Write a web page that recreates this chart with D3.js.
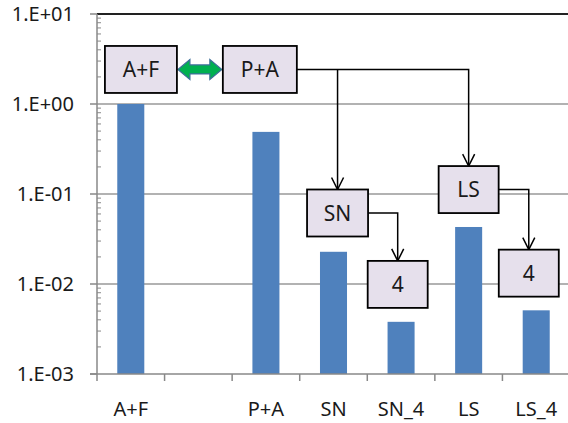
<!DOCTYPE html>
<html>
<head>
<meta charset="utf-8">
<script src="https://cdn.jsdelivr.net/npm/d3@7"></script>
<style>
  body { margin: 0; background: #fff; }
  svg { display: block; font-family: "Noto Sans", "Open Sans", sans-serif; }
</style>
</head>
<body>
<svg id="chart" width="568" height="423"></svg>
<script>
// chart data
const categories = ['A+F', '', 'P+A', 'SN', 'SN_4', 'LS', 'LS_4'];
const values = [1.0, null, 0.49, 0.0228, 0.0038, 0.043, 0.0051];
const yTicks = [1e-3, 1e-2, 1e-1, 1e0, 1e1];
const yTickLabels = ['1.E-03', '1.E-02', '1.E-01', '1.E+00', '1.E+01'];

// annotation boxes: label, x position (category index units), y value (log scale)
const boxLabels = ['A+F', 'P+A', 'SN', '4', 'LS', '4'];
const boxX = [0.65, 2.41, 3.56, 4.45, 5.5, 6.39];
const boxY = [2.42, 2.42, 0.0615, 0.0099, 0.112, 0.0132];
const boxW = [72, 74, 61, 60, 60, 60];

const margin = { top: 14, right: -2, bottom: 49, left: 97 };
const W = 568, H = 423;

const svg = d3.select('#chart');

const x = d3.scaleBand()
	.domain(categories.map((c, i) => i))
	.range([margin.left, W - margin.right])
	.paddingInner(0.6).paddingOuter(0.3);
const xi = d3.scaleLinear().domain([0, categories.length]).range([margin.left, W - margin.right]);
const y = d3.scaleLog().domain([1e-3, 1e1]).range([H - margin.bottom, margin.top]);

// gridlines
svg.append('g').selectAll('line').data(yTicks.slice(1)).enter()
	.append('line')
	.attr('x1', margin.left).attr('x2', W)
	.attr('y1', d => y(d)).attr('y2', d => y(d))
	.attr('stroke', d => d === 1e1 ? '#222' : '#999')
	.attr('stroke-width', d => d === 1e1 ? 2 : 1.5);

// bars
svg.append('g').selectAll('rect').data(values.map((v, i) => ({ v, i })).filter(d => d.v != null)).enter()
	.append('rect')
	.attr('x', d => x(d.i))
	.attr('width', x.bandwidth())
	.attr('y', d => y(d.v))
	.attr('height', d => y(1e-3) - y(d.v))
	.attr('fill', '#4F81BD');

// y axis
const yAxis = svg.append('g').attr('transform', 'translate(' + margin.left + ',0)');
yAxis.append('line').attr('y1', y(1e1)).attr('y2', y(1e-3)).attr('stroke', '#888').attr('stroke-width', 1.5);
yAxis.selectAll('.major').data(yTicks).enter().append('line')
	.attr('x1', -7).attr('x2', 0).attr('y1', d => y(d)).attr('y2', d => y(d))
	.attr('stroke', '#888').attr('stroke-width', 1.5);
const minor = [];
yTicks.slice(0, -1).forEach(t => { for (let k = 2; k <= 9; k++) minor.push(t * k); });
yAxis.selectAll('.minor').data(minor).enter().append('line')
	.attr('x1', 0).attr('x2', 4).attr('y1', d => y(d)).attr('y2', d => y(d))
	.attr('stroke', '#888').attr('stroke-width', 1);
yAxis.selectAll('text').data(yTicks).enter().append('text')
	.attr('x', -23).attr('y', d => y(d)).attr('dy', '0.36em')
	.attr('text-anchor', 'end').attr('font-size', 20).attr('fill', '#1a1a1a')
	.text((d, i) => yTickLabels[i]);

// x axis
const xAxis = svg.append('g').attr('transform', 'translate(0,' + y(1e-3) + ')');
xAxis.append('line').attr('x1', margin.left - 7).attr('x2', W).attr('stroke', '#888').attr('stroke-width', 1.5);
xAxis.selectAll('.tick').data(d3.range(categories.length + 1)).enter().append('line')
	.attr('x1', d => xi(d)).attr('x2', d => xi(d)).attr('y1', 0).attr('y2', 7)
	.attr('stroke', '#888').attr('stroke-width', 1.5);
xAxis.selectAll('text').data(categories).enter().append('text')
	.attr('x', (d, i) => x(i) + x.bandwidth() / 2).attr('y', 42)
	.attr('text-anchor', 'middle').attr('font-size', 20).attr('fill', '#1a1a1a')
	.text(d => d);

// connectors
const defs = svg.append('defs');
defs.append('marker').attr('id', 'arr').attr('viewBox', '0 0 14 14')
	.attr('refX', 13).attr('refY', 7).attr('markerWidth', 14).attr('markerHeight', 14)
	.attr('markerUnits', 'userSpaceOnUse').attr('orient', 'auto')
	.append('path').attr('d', 'M1,1 L13,7 L1,13').attr('fill', 'none').attr('stroke', '#000').attr('stroke-width', 1.5);

const bh = 47;
const bx = i => xi(boxX[i]);
const by = i => y(boxY[i]);
const links = [
	[[bx(1) + boxW[1] / 2, by(1)], [bx(4), by(1)], [bx(4), by(4) - bh / 2]],
	[[bx(2), by(1)], [bx(2), by(2) - bh / 2]],
	[[bx(2) + boxW[2] / 2, by(2)], [bx(3), by(2)], [bx(3), by(3) - bh / 2]],
	[[bx(4) + boxW[4] / 2, by(4)], [bx(5), by(4)], [bx(5), by(5) - bh / 2]]
];
svg.append('g').selectAll('path').data(links).enter().append('path')
	.attr('d', d3.line())
	.attr('fill', 'none').attr('stroke', '#000').attr('stroke-width', 1.5)
	.attr('marker-end', 'url(#arr)');

// green double arrow between A+F and P+A
const ax0 = bx(0) + boxW[0] / 2 + 1, ax1 = bx(1) - boxW[1] / 2 - 1, ay = by(0);
const ah = 10, sh = 4.5, hl = 12;
svg.append('path')
	.attr('d', d3.line()([
		[ax0, ay], [ax0 + hl, ay - ah], [ax0 + hl, ay - sh], [ax1 - hl, ay - sh], [ax1 - hl, ay - ah],
		[ax1, ay], [ax1 - hl, ay + ah], [ax1 - hl, ay + sh], [ax0 + hl, ay + sh], [ax0 + hl, ay + ah]
	]) + 'Z')
	.attr('fill', '#00B050').attr('stroke', '#3E6E9A').attr('stroke-width', 1.2);

// boxes
const boxes = svg.append('g').selectAll('g').data(boxLabels).enter().append('g');
boxes.append('rect')
	.attr('x', (d, i) => bx(i) - boxW[i] / 2).attr('y', (d, i) => by(i) - bh / 2)
	.attr('width', (d, i) => boxW[i]).attr('height', bh)
	.attr('fill', '#E6E0EC').attr('stroke', '#000').attr('stroke-width', 1.8);
boxes.append('text')
	.attr('x', (d, i) => bx(i)).attr('y', (d, i) => by(i)).attr('dy', '0.36em')
	.attr('text-anchor', 'middle').attr('font-size', 21).attr('fill', '#1a1a1a')
	.text(d => d);
</script>
</body>
</html>
